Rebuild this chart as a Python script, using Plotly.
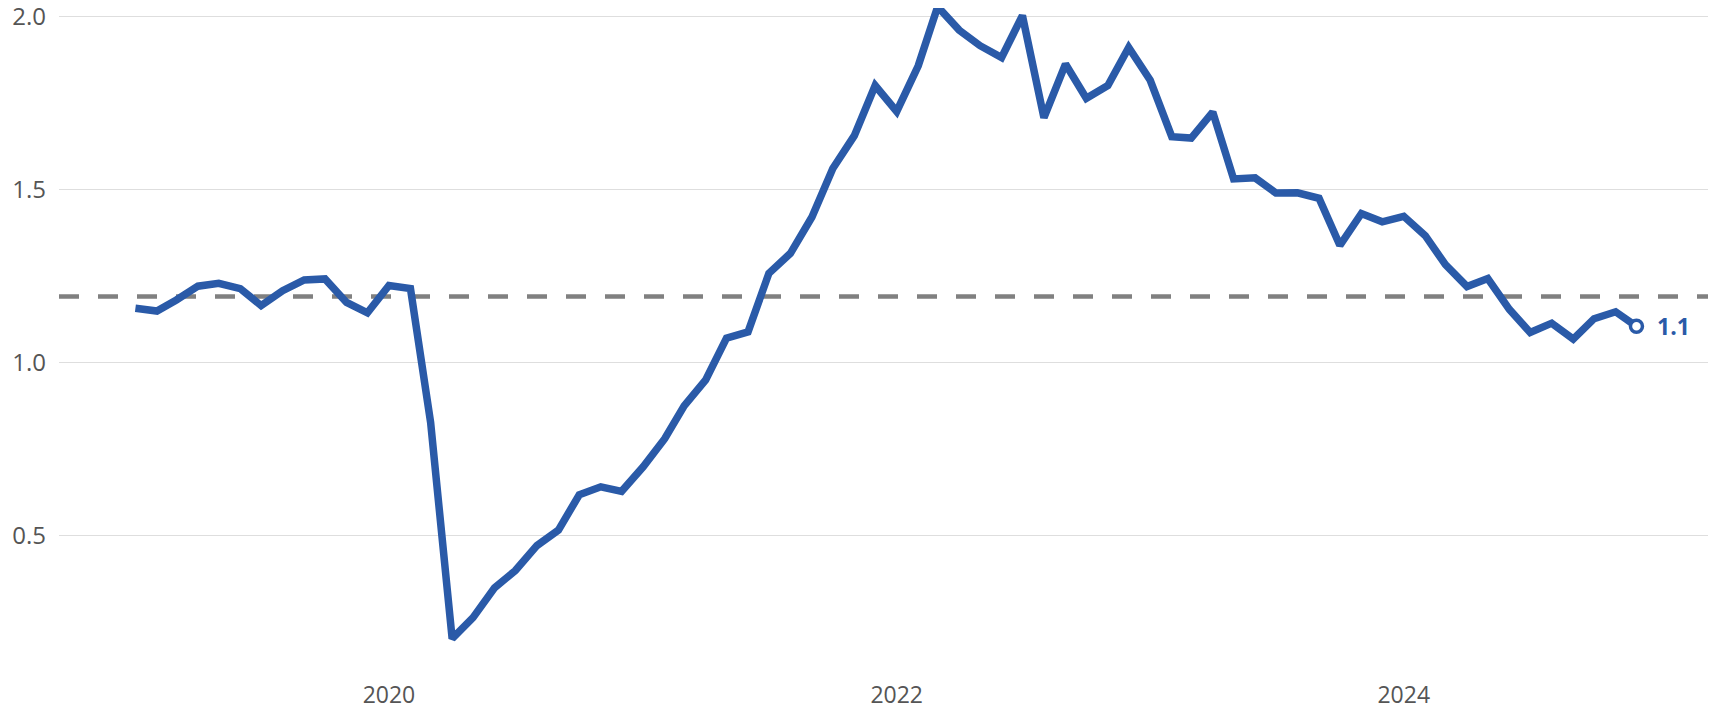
import pandas as pd
import plotly.graph_objects as go

# Monthly observations, Jan 2019 - Dec 2024
months = pd.date_range("2019-01-01", "2024-12-01", freq="MS")
values = [
    1.156, 1.148, 1.180, 1.220, 1.228, 1.213, 1.164, 1.207, 1.238, 1.241, 1.173, 1.143,
    1.222, 1.213, 0.826, 0.201, 0.262, 0.348, 0.398, 0.470, 0.515, 0.617, 0.640, 0.627,
    0.698, 0.779, 0.874, 0.949, 1.070, 1.088, 1.257, 1.315, 1.420, 1.560, 1.655, 1.800,
    1.725, 1.857, 2.028, 1.960, 1.915, 1.881, 2.002, 1.707, 1.862, 1.763, 1.800, 1.910,
    1.815, 1.652, 1.648, 1.723, 1.530, 1.533, 1.489, 1.490, 1.474, 1.338, 1.430, 1.406,
    1.422, 1.366, 1.282, 1.219, 1.242, 1.153, 1.086, 1.113, 1.067, 1.126, 1.146, 1.104,
]
average_value = 1.19
last_label = "1.1"
year_ticks = ["2020-01-01", "2022-01-01", "2024-01-01"]
year_labels = ["2020", "2022", "2024"]
y_ticks = [0.5, 1.0, 1.5, 2.0]
y_labels = ["0.5", "1.0", "1.5", "2.0"]

BLUE = "#2a5aa8"
GREY_TXT = "#555555"

fig = go.Figure()

fig.add_hline(
    y=average_value,
    line=dict(color="#808080", width=4.5, dash="20px,19px"),
    layer="below",
)

fig.add_trace(go.Scatter(
    x=months, y=values, mode="lines",
    line=dict(color=BLUE, width=7.5),
    cliponaxis=False,
    hoverinfo="skip", showlegend=False,
))

fig.add_trace(go.Scatter(
    x=[months[-1]], y=[values[-1]], mode="markers",
    marker=dict(symbol="circle", size=12, color="white",
                line=dict(color=BLUE, width=3.5)),
    cliponaxis=False,
    hoverinfo="skip", showlegend=False,
))

fig.add_annotation(
    x=months[-1], y=values[-1], text="<b>" + last_label + "</b>",
    showarrow=False, xanchor="left", yanchor="middle", xshift=19,
    font=dict(family="Open Sans", size=23, color=BLUE),
)

fig.update_layout(
    width=1715, height=712,
    margin=dict(l=59, r=7, t=8, b=38, autoexpand=False),
    paper_bgcolor="white", plot_bgcolor="white",
    font=dict(family="Open Sans", size=23, color=GREY_TXT),
    showlegend=False,
)

fig.update_xaxes(
    type="date",
    range=["2018-09-13", "2025-03-14"],
    tickvals=year_ticks, ticktext=year_labels,
    showgrid=False, zeroline=False, showline=False,
    ticks="", automargin=False,
    ticklabelstandoff=5, ticklabeloverflow="allow",
    tickfont=dict(size=23, color=GREY_TXT),
)

fig.update_yaxes(
    range=[0.099, 2.024],
    tickvals=y_ticks, ticktext=y_labels,
    showgrid=True, gridcolor="#dedede", gridwidth=1.3,
    zeroline=False, showline=False, ticks="",
    ticklabelstandoff=12, automargin=False,
    ticklabeloverflow="allow",
    tickfont=dict(size=24, color=GREY_TXT),
)

fig.write_html(
    "out.html",
    config={"displayModeBar": False},
    post_script="document.body.style.margin='0';document.body.style.padding='0';",
)
